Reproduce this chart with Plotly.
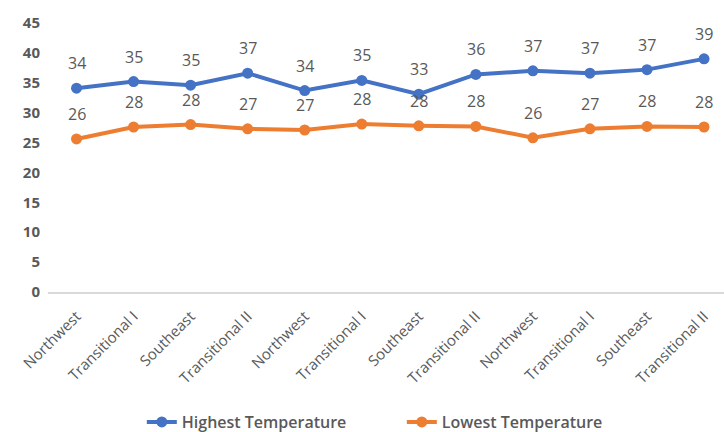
import plotly.graph_objects as go

categories = ["Northwest", "Transitional I", "Southeast", "Transitional II",
              "Northwest", "Transitional I", "Southeast", "Transitional II",
              "Northwest", "Transitional I", "Southeast", "Transitional II"]
highest = [34.1, 35.2, 34.6, 36.6, 33.7, 35.4, 33.1, 36.4, 37.0, 36.6, 37.2, 39.0]
lowest = [25.6, 27.6, 28.0, 27.3, 27.1, 28.1, 27.8, 27.7, 25.8, 27.3, 27.7, 27.6]
series_names = ["Highest Temperature", "Lowest Temperature"]
colors = ["#4472C4", "#ED7D31"]
y_ticks = list(range(0, 50, 5))

x_idx = list(range(len(categories)))

fig = go.Figure()
annotations = []
for name, vals, col in zip(series_names, [highest, lowest], colors):
    fig.add_trace(go.Scatter(
        x=x_idx, y=vals, mode="lines+markers", name=name,
        line=dict(color=col, width=4),
        marker=dict(color=col, size=11),
    ))
    for xi, v in zip(x_idx, vals):
        annotations.append(dict(
            x=xi, y=v, xref="x", yref="y", text=str(int(v + 0.5)), showarrow=False,
            yshift=25, font=dict(size=16, color="#595959", family="Open Sans"),
        ))

fig.update_layout(
    width=724, height=432,
    margin=dict(l=47.5, r=0, t=23, b=140),
    paper_bgcolor="white", plot_bgcolor="white",
    font=dict(family="Open Sans", color="#595959"),
    annotations=annotations,
    showlegend=True,
    legend=dict(
        orientation="h", xref="container", yref="container",
        x=0.555, y=0.023, xanchor="center", yanchor="middle",
        font=dict(size=16, color="#595959", family="Open Sans", weight=600),
        traceorder="normal", entrywidth=215,
    ),
    xaxis=dict(
        tickmode="array", tickvals=x_idx, ticktext=categories,
        range=[-0.5, 11.35], tickangle=-45,
        showgrid=False, zeroline=False,
        showline=True, linecolor="#D9D9D9", linewidth=1.5,
        ticks="", tickfont=dict(size=15, color="#595959"),
        ticklabelstandoff=8,
    ),
    yaxis=dict(
        range=[0, 45], tickvals=y_ticks, showgrid=False, zeroline=False,
        showline=False, ticks="outside", ticklen=4, tickcolor="rgba(0,0,0,0)",
        tickfont=dict(size=15, color="#595959", family="Open Sans", weight="bold"),
    ),
)

fig.write_html("out.html")
